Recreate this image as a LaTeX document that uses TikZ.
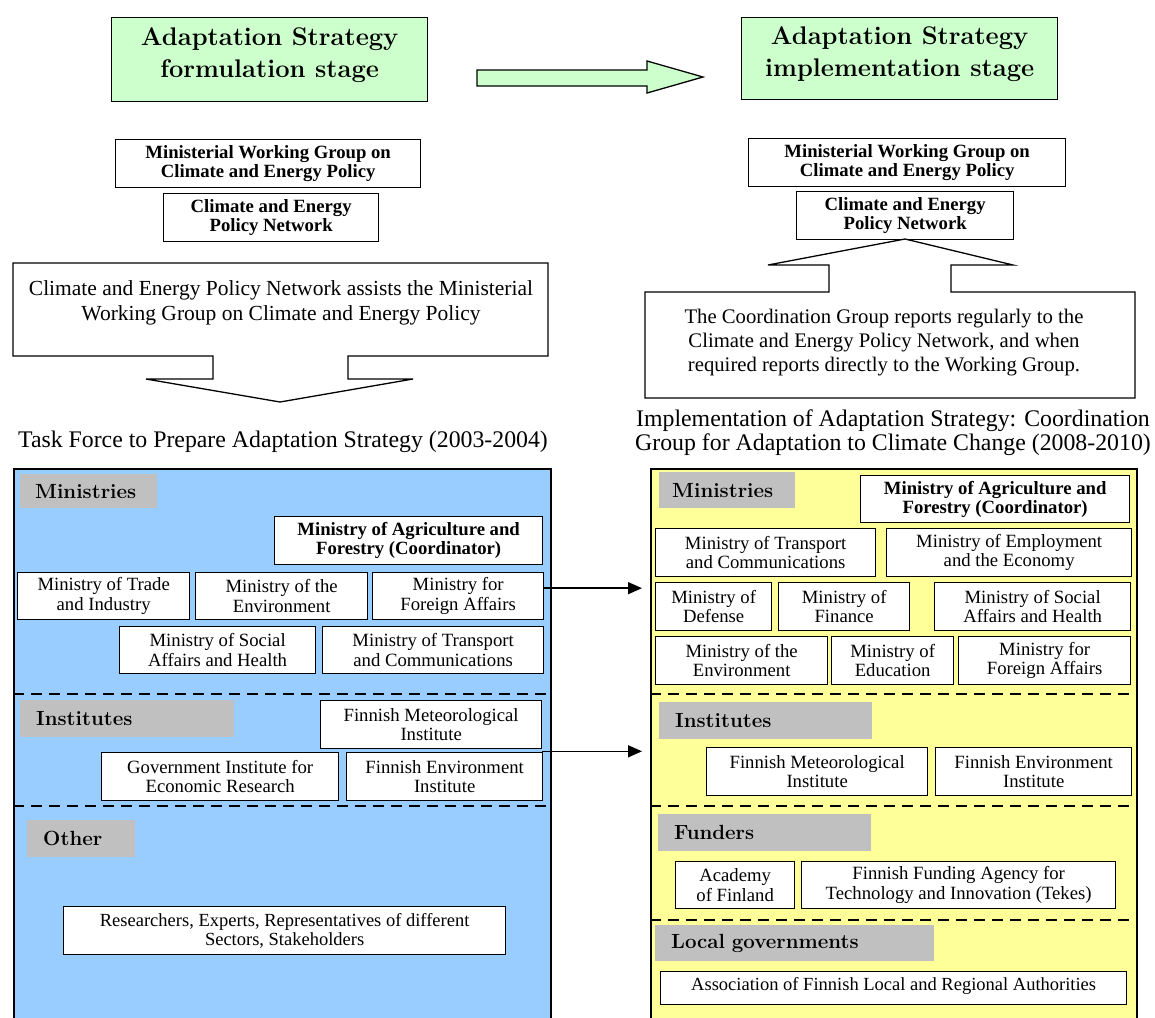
\documentclass[tikz,border=0pt]{standalone}
\usepackage{fontspec}
\setmainfont{Liberation Serif}
\newfontfamily\cent{Latin Modern Roman}
\usetikzlibrary{arrows.meta,calc}
\definecolor{gfill}{HTML}{CCFFCC}
\definecolor{bblue}{HTML}{99CCFF}
\definecolor{yfill}{HTML}{FFFF99}
\definecolor{labgray}{HTML}{C0C0C0}
\begin{document}
\begin{tikzpicture}[x=1pt,y=-1pt,
  bx/.style={draw=black, line width=1.3pt, fill=white, align=center, inner sep=0pt, anchor=north west, font=\fontsize{18.7}{19.5}\selectfont},
  bbx/.style={bx, font=\fontsize{18.7}{19}\selectfont\bfseries},
  head/.style={draw=black, line width=1.3pt, fill=gfill, align=center, inner sep=0pt, anchor=north west, font=\cent\bfseries\fontsize{25.5}{31.5}\selectfont},
  glab/.style={fill=labgray, anchor=north west, inner ysep=0pt, align=left, font=\cent\bfseries\fontsize{20.5}{22}\selectfont},
  sepline/.style={line width=2.5pt, dash pattern=on 11pt off 7pt},
  shapeline/.style={draw=black, line width=1.3pt},
  conn/.style={line width=1.5pt, -{Triangle[length=14pt,width=12pt]}, shorten >=8pt},
  caption/.style={align=center, font=\fontsize{23.8}{24}\selectfont},
]
\clip (0,0) rectangle (1155,1017);
\fill[white] (0,0) rectangle (1155,1017);

% ---------- top headings ----------
\node[head, minimum width=316pt, minimum height=84pt] (lhead) at (111,17) {Adaptation Strategy\\formulation stage\rule[-14pt]{0pt}{14pt}};
\node[head, minimum width=316pt, minimum height=82pt] (rhead) at (741,17) {Adaptation Strategy\\implementation stage\rule[-14pt]{0pt}{14pt}};
\filldraw[shapeline, fill=gfill] (477,70) -- (647,70) -- (647,61) -- (703,77) -- (647,93) -- (647,86) -- (477,86) -- cycle;

% ---------- left upper ----------
\node[bbx, minimum width=305pt, minimum height=48pt] (lmwg) at (115,139) {Ministerial Working Group on\\Climate and Energy Policy};
\node[bbx, minimum width=215pt, minimum height=48pt] (lcepn) at (163,193) {Climate and Energy\\Policy Network};
\filldraw[shapeline, fill=white] (13,263) -- (548,263) -- (548,356) -- (348,356) -- (348,379) -- (413,379) -- (280,402) -- (146,379) -- (213,379) -- (213,356) -- (13,356) -- cycle;
\node[align=center, font=\fontsize{21.5}{25}\selectfont] (lassist) at (281,303) {Climate and Energy Policy Network assists the Ministerial\\Working Group on Climate and Energy Policy};
\node[caption] (ltask) at (283,442) {Task Force to Prepare Adaptation Strategy (2003-2004)};

% ---------- right upper ----------
\node[bbx, minimum width=317pt, minimum height=48pt] (rmwg) at (748,138) {Ministerial Working Group on\\Climate and Energy Policy};
\node[bbx, minimum width=217pt, minimum height=48pt] (rcepn) at (796,191) {Climate and Energy\\Policy Network};
\filldraw[shapeline, fill=white] (645,292) -- (829,292) -- (829,265) -- (768,265) -- (905,239) -- (1013,265) -- (951,265) -- (951,292) -- (1135,292) -- (1135,398) -- (645,398) -- cycle;
\node[align=center, font=\fontsize{20.7}{24}\selectfont] (rcoord) at (884,343) {The Coordination Group reports regularly to the\\Climate and Energy Policy Network, and when\\required reports directly to the Working Group.};
\node[caption] (rimpl) at (893,433) {Implementation of Adaptation Strategy: Coordination\\Group for Adaptation to Climate Change (2008-2010)};

% ---------- left big box ----------
\node[draw=black, line width=2pt, fill=bblue, anchor=north west, minimum width=537pt, minimum height=580pt, inner sep=0pt] (bluebox) at (13,468) {};
\node[glab, minimum width=137pt, minimum height=34pt, inner xsep=15pt, text width=107pt] (lminlab) at (20,474) {Ministries};
\node[bbx, minimum width=268pt, minimum height=48pt] (lmaf) at (274,516) {Ministry of Agriculture and\\Forestry (Coordinator)};
\node[bx, minimum width=172pt, minimum height=47pt] (ltrade) at (17,572) {Ministry of Trade\\and Industry};
\node[bx, minimum width=172pt, minimum height=47pt] (lenv) at (195,572) {Ministry of the\\Environment};
\node[bx, minimum width=171pt, minimum height=47pt] (lfor) at (372,572) {Ministry for\\Foreign Affairs};
\node[bx, minimum width=196pt, minimum height=47pt] (lsoc) at (119,626) {Ministry of Social\\Affairs and Health};
\node[bx, minimum width=221pt, minimum height=47pt] (ltra) at (322,626) {Ministry of Transport\\and Communications};
\draw[sepline] (13,694) -- (550,694);
\node[glab, minimum width=214pt, minimum height=37pt, inner xsep=16pt, text width=182pt] (linstlab) at (20,700) {Institutes};
\node[bx, minimum width=221pt, minimum height=48pt] (lfmi) at (320,700) {Finnish Meteorological\\Institute};
\node[bx, minimum width=237pt, minimum height=48pt] (lgier) at (101,752) {Government Institute for\\Economic Research};
\node[bx, minimum width=196pt, minimum height=48pt] (lfei) at (346,752) {Finnish Environment\\Institute};
\draw[sepline] (13,806) -- (550,806);
\node[glab, minimum width=108pt, minimum height=37pt, inner xsep=16pt, text width=76pt] (lothlab) at (27,820) {Other};
\node[bx, minimum width=442pt, minimum height=48pt, font=\fontsize{18.5}{19}\selectfont] (lres) at (63,906) {Researchers, Experts, Representatives of different\\Sectors, Stakeholders};

% ---------- right big box ----------
\node[draw=black, line width=2pt, fill=yfill, anchor=north west, minimum width=486pt, minimum height=580pt, inner sep=0pt] (ybox) at (650,468) {};
\node[glab, minimum width=136pt, minimum height=36pt, inner xsep=13pt, text width=110pt] (rminlab) at (659,472) {Ministries};
\node[bbx, minimum width=269pt, minimum height=47pt] (rmaf) at (860,475) {Ministry of Agriculture and\\Forestry (Coordinator)};
\node[bx, minimum width=220pt, minimum height=48pt] (rtra) at (655,528) {Ministry of Transport\\and Communications};
\node[bx, minimum width=245pt, minimum height=48pt] (remp) at (886,528) {Ministry of Employment\\and the Economy};
\node[bx, minimum width=116pt, minimum height=48pt] (rdef) at (655,582) {Ministry of\\Defense};
\node[bx, minimum width=131pt, minimum height=48pt] (rfin) at (778,582) {Ministry of\\Finance};
\node[bx, minimum width=196pt, minimum height=48pt] (rsoc) at (934,582) {Ministry of Social\\Affairs and Health};
\node[bx, minimum width=172pt, minimum height=48pt] (renv) at (655,636) {Ministry of the\\Environment};
\node[bx, minimum width=122pt, minimum height=48pt] (redu) at (831,636) {Ministry of\\Education};
\node[bx, minimum width=172pt, minimum height=48pt] (rfor) at (958,636) {Ministry for\\Foreign Affairs};
\draw[sepline] (650,694) -- (1136,694);
\node[glab, minimum width=213pt, minimum height=37pt, inner xsep=16pt, text width=181pt] (rinstlab) at (659,702) {Institutes};
\node[bx, minimum width=221pt, minimum height=48pt] (rfmi) at (706,747) {Finnish Meteorological\\Institute};
\node[bx, minimum width=196pt, minimum height=48pt] (rfei) at (935,747) {Finnish Environment\\Institute};
\draw[sepline] (650,806) -- (1136,806);
\node[glab, minimum width=213pt, minimum height=37pt, inner xsep=16pt, text width=181pt] (rfundlab) at (658,814) {Funders};
\node[bx, minimum width=119pt, minimum height=47pt] (racad) at (675,861) {Academy\\of Finland};
\node[bx, minimum width=314pt, minimum height=47pt] (rtekes) at (801,861) {Finnish Funding Agency for\\Technology and Innovation (Tekes)};
\draw[sepline] (650,920) -- (1136,920);
\node[glab, minimum width=279pt, minimum height=36pt, inner xsep=16pt, text width=247pt] (rlocallab) at (655,925) {Local governments};
\node[bx, minimum width=466pt, minimum height=33pt, font=\fontsize{18.5}{19}\selectfont] (rassoc) at (660,971) {Association of Finnish Local and Regional Authorities\rule[-9pt]{0pt}{9pt}};

% ---------- connectors ----------
\draw[conn] ([yshift=8pt]lfor.east) -- ([yshift=8pt]lfor.east -| ybox.west);
\draw[conn] ([yshift=-2pt]lfmi.south east) -- ([yshift=-2pt]lfmi.south east -| ybox.west);
\end{tikzpicture}
\end{document}
